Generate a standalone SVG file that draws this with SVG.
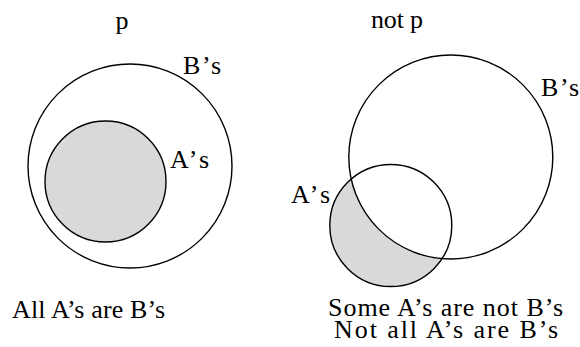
<svg xmlns="http://www.w3.org/2000/svg" width="580" height="347" viewBox="0 0 580 347">
<style>
.c{fill:none;stroke:#000;stroke-width:1.4}
.s{fill:#d9d9d9;stroke:none}
</style>
<rect width="580" height="347" fill="#fff"/>
<g font-family="Liberation Serif, Times New Roman, serif" font-size="26" fill="#000">
<g id="left">
<g id="B-left"><circle class="c" cx="130" cy="166" r="102"/><text x="183" y="74" textLength="38" lengthAdjust="spacing">B’s</text></g>
<g id="A-left"><circle class="s" cx="105.5" cy="181.5" r="60.5"/><circle class="c" cx="105.5" cy="181.5" r="60.5"/><text x="170" y="168" textLength="39" lengthAdjust="spacing">A’s</text></g>
<text x="122" y="29" text-anchor="middle">p</text>
<text x="12" y="318" textLength="153" lengthAdjust="spacing">All A’s are B’s</text>
</g>
<g id="right">
<path class="s" d="M351.2,179.1 A61,61 0 1 0 442,258.6 A102,102 0 0 1 351.2,179.1 Z"/>
<g id="B-right"><circle class="c" cx="450.8" cy="157" r="102"/><text x="541" y="96" textLength="38" lengthAdjust="spacing">B’s</text></g>
<g id="A-right"><circle class="c" cx="390.8" cy="225.5" r="61"/><text x="291" y="203" textLength="39" lengthAdjust="spacing">A’s</text></g>
<text x="371" y="28" textLength="52" lengthAdjust="spacing">not p</text>
<text x="328" y="316" textLength="235" lengthAdjust="spacing">Some A’s are not B’s</text>
<text x="334" y="338" textLength="224" lengthAdjust="spacing">Not all A’s are B’s</text>
</g>
</g>
</svg>
